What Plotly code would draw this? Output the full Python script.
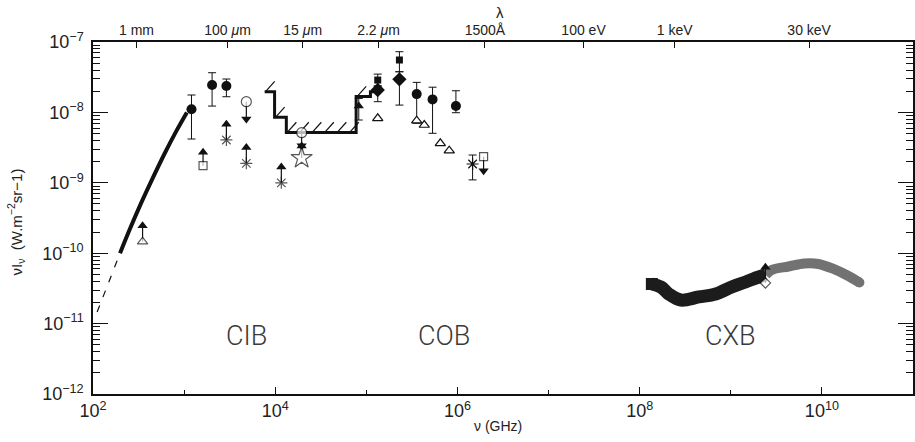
import plotly.graph_objects as go
import numpy as np

# ---------------- data (nu in GHz, nuI_nu in W m^-2 sr^-1) ----------------
firas_nu = [198, 254, 327, 443, 615, 832, 1072]
firas_y = [1.0e-10, 2.2e-10, 4.7e-10, 1.1e-9, 2.65e-9, 5.6e-9, 1.0e-8]
firas_ext_nu = [111, 198]
firas_ext_y = [1.46e-11, 1.0e-10]

circ_nu = [1205, 2028, 2911, 3.57e5, 5.33e5, 9.62e5]
circ_y = [1.107e-8, 2.45e-8, 2.37e-8, 1.82e-8, 1.53e-8, 1.23e-8]
circ_hi = [1.766e-8, 3.66e-8, 2.98e-8, 2.67e-8, 2.28e-8, 2.03e-8]
circ_lo = [4.19e-9, 1.23e-8, 1.67e-8, 7.0e-9, 5.05e-9, 9.9e-9]

sq_nu = [1.334e5, 2.307e5]
sq_y = [2.88e-8, 5.55e-8]
sq_hi = [3.5e-8, 7.28e-8]
sq_lo = [2.37e-8, 3.78e-8]

dia_nu = [1.334e5, 2.307e5]
dia_y = [2.08e-8, 2.95e-8]
dia_hi = [2.37e-8, 3.78e-8]
dia_lo = [1.42e-8, 1.27e-8]

tri_nu = [8.26e4]
tri_y = [1.23e-8]
tri_hi = [1.58e-8]
tri_lo = [7.8e-9]

otri_nu = [1.334e5, 3.57e5, 4.325e5, 6.486e5, 8.128e5]
otri_y = [8.24e-9, 7.62e-9, 6.62e-9, 3.64e-9, 2.86e-9]

ast_nu = [1.466e6]
ast_y = [1.85e-9]
ast_hi = [2.48e-9]
ast_lo = [1.10e-9]

# lower limits (upward arrows)
ll_nu = [350, 1614, 2911, 4819, 11670, 19500, 2.4e9]
ll_y = [1.46e-10, 1.75e-9, 4.06e-9, 1.89e-9, 1.0e-9, 2.25e-9, 3.78e-11]
ll_tip = [2.81e-10, 3.12e-9, 7.8e-9, 3.64e-9, 1.93e-9, 3.84e-9, 7.26e-11]
ll_kind = ['triangle', 'square', 'asterisk', 'asterisk', 'asterisk', 'star', 'diamond']

# upper limits (downward arrows)
ul_nu = [4819, 19500, 1.936e6]
ul_y = [1.42e-8, 5.15e-9, 2.35e-9]
ul_tip = [7.0e-9, 2.92e-9, 1.29e-9]
ul_kind = ['circle', 'circle', 'square']

# hatched step upper limit
step_edges = [7656, 9840, 13240, 77270, 110900, 125900]
step_vals = [1.97e-8, 8.51e-9, 5.19e-9, 1.68e-8, 1.97e-8]

# CXB bands
cxb1_nu = [1.361e8, 1.71e8, 2.089e8, 2.831e8, 4.457e8, 6.839e8, 1.023e9, 1.455e9, 2.023e9, 2.41e9]
cxb1_y = [3.65e-11, 3.31e-11, 2.63e-11, 2.16e-11, 2.39e-11, 2.63e-11, 3.31e-11, 3.90e-11, 4.59e-11, 4.90e-11]
cxb2_nu = [2.41e9, 2.805e9, 4.305e9, 6.442e9, 9.183e9, 1.34e10, 1.858e10, 2.582e10]
cxb2_y = [4.90e-11, 5.77e-11, 6.47e-11, 7.14e-11, 7.03e-11, 5.97e-11, 4.90e-11, 3.84e-11]

# labels
region_labels = ['CIB', 'COB', 'CXB']
region_nu = [4820, 7.16e5, 9.89e8]
region_y = 6.67e-12

top_tick_nu = [300, 3000, 2.0e4, 1.36e5, 2.0e6, 2.42e7, 2.42e8, 7.25e9]
top_tick_text = ['1 mm', '100 <i>μ</i>m', '15 <i>μ</i>m', '2.2 <i>μ</i>m', '1500Å',
                 '100 eV', '1 keV', '30 keV']

x_major = [1e2, 1e4, 1e6, 1e8, 1e10]
x_major_text = ['10<sup>2</sup>', '10<sup>4</sup>', '10<sup>6</sup>', '10<sup>8</sup>', '10<sup>10</sup>']
x_minor = [1e3, 1e5, 1e7, 1e9, 1e11]
y_major = [1e-12, 1e-11, 1e-10, 1e-9, 1e-8, 1e-7]
y_major_text = ['10<sup>−12</sup>', '10<sup>−11</sup>', '10<sup>−10</sup>', '10<sup>−9</sup>',
                '10<sup>−8</sup>', '10<sup>−7</sup>']

# ---------------- styles ----------------
BLACK = '#111111'
sym_map = {'triangle': 'triangle-up', 'square': 'square', 'asterisk': 'asterisk-open',
           'star': 'star', 'diamond': 'diamond', 'circle': 'circle'}
size_map = {'triangle': 9, 'square': 8, 'asterisk': 10, 'star': 16, 'diamond': 8, 'circle': 10}
HEAD = 9
head_off = 10 ** 0.06

fig = go.Figure()


def err(y, hi, lo):
    return dict(type='data', symmetric=False,
                array=[h - v for h, v in zip(hi, y)],
                arrayminus=[v - l for v, l in zip(y, lo)],
                thickness=1, width=4, color=BLACK)


# hatching above the step (derived from the step arrays)
hx, hy = [], []
hatch_gap, hatch_w, hatch_h = 0.137, 0.10, 10 ** 0.145
for i, v in enumerate(step_vals):
    a, b = np.log10(step_edges[i]), np.log10(step_edges[i + 1])
    s = a + 0.01
    while s + hatch_w <= b + 0.05:
        hx += [10 ** s, 10 ** (s + hatch_w), None]
        hy += [v, v * hatch_h, None]
        s += hatch_gap
fig.add_trace(go.Scatter(x=hx, y=hy, mode='lines', line=dict(color=BLACK, width=1.2), hoverinfo='skip'))

step_y = step_vals + [step_vals[-1]]
fig.add_trace(go.Scatter(x=step_edges, y=step_y, mode='lines',
                         line=dict(color=BLACK, width=3, shape='hv')))

# FIRAS curve
fig.add_trace(go.Scatter(x=firas_nu, y=firas_y, mode='lines',
                         line=dict(color=BLACK, width=4, shape='spline')))
fig.add_trace(go.Scatter(x=firas_ext_nu, y=firas_ext_y, mode='lines',
                         line=dict(color=BLACK, width=1.2, dash='7px,9px')))

# CXB bands
fig.add_trace(go.Scatter(x=cxb2_nu, y=cxb2_y, mode='lines', line=dict(color='#727272', width=10, shape='spline')))
fig.add_trace(go.Scatter(x=[cxb2_nu[-1]], y=[cxb2_y[-1]], mode='markers',
                         marker=dict(symbol='circle', size=10, color='#727272')))
fig.add_trace(go.Scatter(x=cxb1_nu, y=cxb1_y, mode='lines', line=dict(color='#1c1c1c', width=13, shape='spline')))
fig.add_trace(go.Scatter(x=[cxb1_nu[0]], y=[cxb1_y[0]], mode='markers',
                         marker=dict(symbol='square', size=12, color='#1c1c1c')))

# limit arrows
ax, ay = [], []
for n, b, t in zip(ll_nu, ll_y, ll_tip):
    ax += [n, n, None]
    ay += [b, t / head_off, None]
for n, b, t in zip(ul_nu, ul_y, ul_tip):
    ax += [n, n, None]
    ay += [b, t * head_off, None]
fig.add_trace(go.Scatter(x=ax, y=ay, mode='lines', line=dict(color=BLACK, width=1.2)))
fig.add_trace(go.Scatter(x=ll_nu, y=[t / head_off for t in ll_tip], mode='markers',
                         marker=dict(symbol='triangle-up', size=HEAD, color=BLACK)))
fig.add_trace(go.Scatter(x=ul_nu, y=[t * head_off for t in ul_tip], mode='markers',
                         marker=dict(symbol='triangle-down', size=HEAD, color=BLACK)))
for kinds, xs, ys in [(ll_kind, ll_nu, ll_y), (ul_kind, ul_nu, ul_y)]:
    fig.add_trace(go.Scatter(
        x=xs, y=ys, mode='markers',
        marker=dict(symbol=[sym_map[k] for k in kinds], size=[size_map[k] for k in kinds],
                    color=[BLACK if k == 'asterisk' else 'white' for k in kinds],
                    line=dict(color=BLACK, width=1.2))))

# points with error bars
fig.add_trace(go.Scatter(x=circ_nu, y=circ_y, mode='markers', error_y=err(circ_y, circ_hi, circ_lo),
                         marker=dict(symbol='circle', size=10, color=BLACK)))
fig.add_trace(go.Scatter(x=sq_nu, y=sq_y, mode='markers', error_y=err(sq_y, sq_hi, sq_lo),
                         marker=dict(symbol='square', size=7, color=BLACK)))
fig.add_trace(go.Scatter(x=dia_nu, y=dia_y, mode='markers', error_y=err(dia_y, dia_hi, dia_lo),
                         marker=dict(symbol='diamond', size=11, color=BLACK)))
fig.add_trace(go.Scatter(x=tri_nu, y=tri_y, mode='markers', error_y=err(tri_y, tri_hi, tri_lo),
                         marker=dict(symbol='triangle-up', size=9, color=BLACK)))
fig.add_trace(go.Scatter(x=ast_nu, y=ast_y, mode='markers', error_y=err(ast_y, ast_hi, ast_lo),
                         marker=dict(symbol='asterisk-open', size=10, color=BLACK,
                                     line=dict(color=BLACK, width=1.2))))
fig.add_trace(go.Scatter(x=otri_nu, y=otri_y, mode='markers',
                         marker=dict(symbol='triangle-up', size=9, color='white',
                                     line=dict(color=BLACK, width=1.2))))

# dummy trace so the mirrored axes render
fig.add_trace(go.Scatter(x=[1e3], y=[1e-9], xaxis='x2', yaxis='y2', mode='markers',
                         marker=dict(opacity=0), hoverinfo='skip'))

y_minor = [k * 10.0 ** p for p in range(-12, -7) for k in range(2, 10)]
axis_common = dict(showgrid=False, zeroline=False, showline=True, linecolor=BLACK, linewidth=1.5)

fig.update_layout(
    width=915, height=442,
    margin=dict(l=93, r=2, t=42, b=48, autoexpand=False),
    plot_bgcolor='white', paper_bgcolor='white', showlegend=False,
    font=dict(family='Liberation Sans, Arial, sans-serif', size=18, color='#222222'),
    xaxis=dict(type='log', range=[2, 11], tickmode='array', tickvals=x_major, ticktext=x_major_text,
               ticks='inside', ticklen=7, tickcolor=BLACK, tickwidth=1.2,
               minor=dict(tickmode='array', tickvals=x_minor, ticks='inside', ticklen=4,
                          tickcolor=BLACK, tickwidth=1.2),
               **axis_common),
    xaxis2=dict(type='log', range=[2, 11], overlaying='x', side='top', tickmode='array',
                tickvals=top_tick_nu, ticktext=top_tick_text, ticks='inside', ticklen=6,
                tickcolor=BLACK, tickwidth=1.2, tickfont=dict(size=14),
                **axis_common),
    yaxis=dict(type='log', range=[-12, -7], tickmode='array', tickvals=y_major, ticktext=y_major_text,
               ticks='inside', ticklen=15, tickcolor=BLACK, tickwidth=1.2, ticklabelstandoff=4,
               minor=dict(tickmode='array', tickvals=y_minor, ticks='inside', ticklen=7,
                          tickcolor=BLACK, tickwidth=1),
               **axis_common),
    yaxis2=dict(type='log', range=[-12, -7], overlaying='y', side='right', tickmode='array',
                tickvals=y_major, showticklabels=False, ticks='inside', ticklen=15,
                tickcolor=BLACK, tickwidth=1.2,
                minor=dict(tickmode='array', tickvals=y_minor, ticks='inside', ticklen=7,
                           tickcolor=BLACK, tickwidth=1),
                **axis_common),
)

annotations = []
for lab, n in zip(region_labels, region_nu):
    annotations.append(dict(x=np.log10(n), y=np.log10(region_y), xref='x', yref='y', text=lab,
                            xanchor='center', yanchor='middle',
                            showarrow=False, font=dict(size=27, color='#3a3a3a',
                                                       family='Roboto, Liberation Sans, sans-serif',
                                                       weight=300)))
annotations.append(dict(x=0.4965, y=1.085, xref='paper', yref='paper', text='λ', showarrow=False,
                        xanchor='center', yanchor='middle', font=dict(size=15)))
annotations.append(dict(x=0.494, y=-0.09, xref='paper', yref='paper', text='ν (GHz)', showarrow=False,
                        xanchor='center', yanchor='middle', font=dict(size=14)))
annotations.append(dict(x=-0.094, y=0.49, xref='paper', yref='paper',
                        text='νI<sub>ν</sub>  (W.m<sup>−2</sup>sr−1)', showarrow=False,
                        xanchor='center', yanchor='middle',
                        textangle=-90, font=dict(size=15)))
fig.update_layout(annotations=annotations)

fig.write_html('out.html', config={'displayModeBar': False},
               post_script="document.body.style.margin='0px';document.body.style.padding='0px';")
